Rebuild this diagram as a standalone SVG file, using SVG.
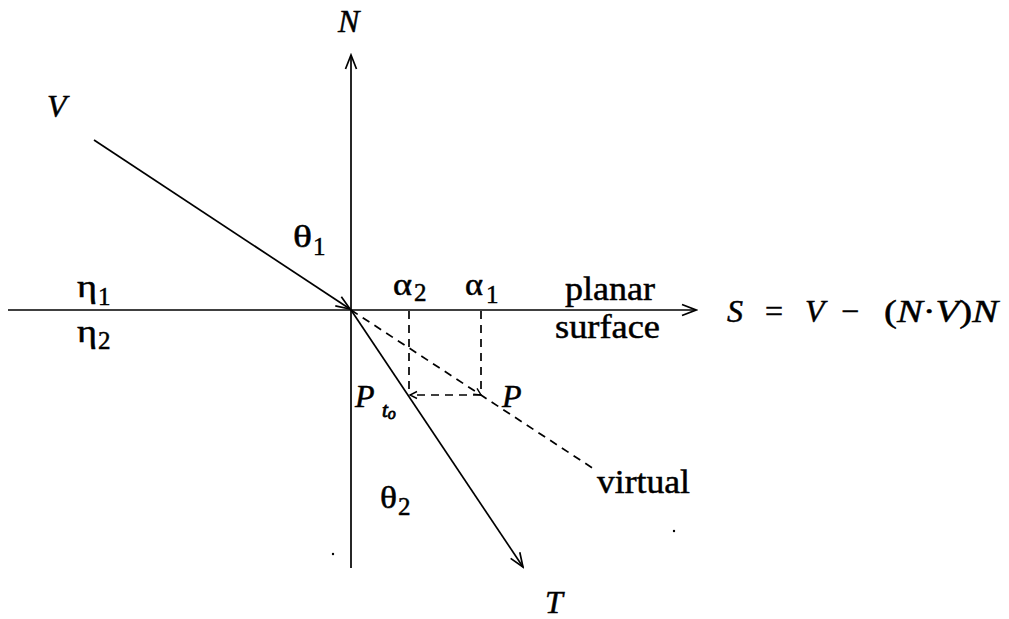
<svg xmlns="http://www.w3.org/2000/svg" width="1009" height="619" viewBox="0 0 1009 619">
<style>
  .ln { stroke: #000; stroke-width: 1.7; fill: none; }
  .dsh { stroke: #000; stroke-width: 1.7; fill: none; stroke-dasharray: 8 6; }
  text { font-family: "Liberation Serif", "Times New Roman", serif; fill: #000; stroke: #000; stroke-width: 0.5; }
  .t { font-size: 32px; }
  .w { font-size: 34px; }
  .it { font-size: 32px; font-style: italic; }
  .gr { font-size: 31px; }
  .sub { font-size: 25px; }
  .subi { font-size: 21px; font-style: italic; stroke-width: 0.8; }
</style>
<defs>
  <marker id="arr" viewBox="-16 -8 18 16" refX="0" refY="0" markerWidth="18" markerHeight="16" markerUnits="userSpaceOnUse" orient="auto">
    <path d="M-14,-5.5 L0,0 L-14,5.5" stroke="#000" stroke-width="1.7" fill="none"/>
  </marker>
  <marker id="sarr" viewBox="-10 -6 12 12" refX="0" refY="0" markerWidth="12" markerHeight="12" markerUnits="userSpaceOnUse" orient="auto">
    <path d="M-7,-3.5 L0,0 L-7,3.5" stroke="#000" stroke-width="1.4" fill="none"/>
  </marker>
</defs>
<rect width="1009" height="619" fill="#fff"/>

<g id="connectors">
  <line id="surface-axis" class="ln" x1="8" y1="310" x2="696" y2="310" marker-end="url(#arr)"/>
  <line id="normal-axis" class="ln" x1="351" y1="568" x2="351" y2="55" marker-end="url(#arr)"/>
  <line id="incident" class="ln" x1="94" y1="140" x2="350" y2="309" marker-end="url(#arr)"/>
  <line id="transmitted" class="ln" x1="351" y1="310" x2="523" y2="567" marker-end="url(#arr)"/>
  <line id="virtual-ray" class="dsh" x1="351" y1="310" x2="597" y2="471"/>
  <line id="proj-a2" class="dsh" x1="409" y1="311" x2="409" y2="395"/>
  <line id="proj-a1" class="dsh" x1="481" y1="311" x2="481" y2="395"/>
  <line id="p-to-pto" class="dsh" x1="481" y1="395" x2="410" y2="395" marker-end="url(#sarr)"/>
  <line id="to-p" x1="474" y1="390.5" x2="481" y2="395" stroke="none" marker-end="url(#sarr)"/>
</g>

<g id="label-N"><text class="it" x="338" y="32">N</text></g>
<g id="label-V"><text class="it" x="47" y="117">V</text></g>
<g id="label-theta1"><text class="gr" x="293" y="247" textLength="19" lengthAdjust="spacingAndGlyphs">θ</text><text class="sub" x="313" y="255">1</text></g>
<g id="label-eta1"><text class="gr" x="77" y="297" textLength="20" lengthAdjust="spacingAndGlyphs">η</text><text class="sub" x="98" y="305">1</text></g>
<g id="label-eta2"><text class="gr" x="77" y="342" textLength="20" lengthAdjust="spacingAndGlyphs">η</text><text class="sub" x="98" y="349">2</text></g>
<g id="label-alpha2"><text class="gr" x="393" y="295" textLength="19" lengthAdjust="spacingAndGlyphs">α</text><text class="sub" x="414" y="301">2</text></g>
<g id="label-alpha1"><text class="gr" x="465" y="295" textLength="18" lengthAdjust="spacingAndGlyphs">α</text><text class="sub" x="486" y="303">1</text></g>
<g id="label-planar"><text class="w" x="565" y="300" textLength="90" lengthAdjust="spacingAndGlyphs">planar</text><text class="w" x="555" y="338" textLength="105" lengthAdjust="spacingAndGlyphs">surface</text></g>
<g id="label-S">
  <text class="it" x="727" y="322">S</text>
  <text class="t" x="765" y="322">=</text>
  <text class="it" x="805" y="322">V</text>
  <text class="t" x="841" y="322">−</text>
  <text class="t" x="884" y="322" textLength="114" lengthAdjust="spacingAndGlyphs">(<tspan font-style="italic">N</tspan>·<tspan font-style="italic">V</tspan>)<tspan font-style="italic">N</tspan></text>
</g>
<g id="label-P"><text class="it" x="502" y="407">P</text></g>
<g id="label-Pto"><text class="it" x="355" y="407">P</text><text class="subi" x="382" y="417">t<tspan font-size="16" dy="2">o</tspan></text></g>
<g id="label-theta2"><text class="gr" x="380" y="508" textLength="17" lengthAdjust="spacingAndGlyphs">θ</text><text class="sub" x="398" y="515">2</text></g>
<g id="label-virtual"><text class="w" x="597" y="493" textLength="93" lengthAdjust="spacingAndGlyphs">virtual</text></g>
<g id="label-T"><text class="it" x="545" y="613">T</text></g>
<g id="specks" fill="#000">
  <circle cx="333" cy="554" r="1.2"/>
  <circle cx="674" cy="531" r="1.2"/>
</g>
</svg>
